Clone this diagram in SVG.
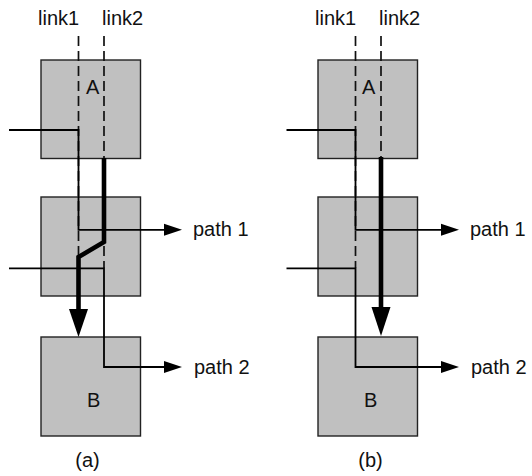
<svg xmlns="http://www.w3.org/2000/svg" width="532" height="476" viewBox="0 0 532 476">
<defs>
<style>
.box{fill:#c0c0c0;stroke:#222;stroke-width:1.4}
.lbl{font-family:"Liberation Sans",Arial,Helvetica,sans-serif;font-size:20px;fill:#111}
.dash{fill:none;stroke:#111;stroke-width:1.7;stroke-dasharray:10 5}
.thin{fill:none;stroke:#000;stroke-width:1.8;stroke-linejoin:miter}
.thick{fill:none;stroke:#000;stroke-width:4.6;stroke-linejoin:miter}
.head{fill:#000;stroke:none}
</style>
</defs>
<rect width="532" height="476" fill="#fff"/>

<!-- Panel (a) -->
<g id="a-A"><rect class="box" x="41" y="60" width="99.5" height="98.5"/><text class="lbl" x="86" y="94">A</text></g>
<g id="a-mid"><rect class="box" x="41" y="197" width="99.5" height="99"/></g>
<g id="a-B"><rect class="box" x="41" y="337" width="99.5" height="99"/><text class="lbl" x="87" y="406.5">B</text></g>
<g id="a-labels">
<text class="lbl" x="38" y="25">link1</text>
<text class="lbl" x="102" y="25">link2</text>
<text class="lbl" x="193" y="236">path 1</text>
<text class="lbl" x="194" y="374">path 2</text>
<text class="lbl" x="87.5" y="467" text-anchor="middle">(a)</text>
</g>

<!-- Panel (b) -->
<g id="b-A"><rect class="box" x="318" y="60" width="99.5" height="98.5"/><text class="lbl" x="362" y="94">A</text></g>
<g id="b-mid"><rect class="box" x="318" y="197" width="99.5" height="99"/></g>
<g id="b-B"><rect class="box" x="318" y="337" width="99.5" height="99"/><text class="lbl" x="364" y="406.5">B</text></g>
<g id="b-labels">
<text class="lbl" x="315" y="25">link1</text>
<text class="lbl" x="379" y="25">link2</text>
<text class="lbl" x="470" y="236">path 1</text>
<text class="lbl" x="471" y="374">path 2</text>
<text class="lbl" x="370.5" y="467" text-anchor="middle">(b)</text>
</g>

<g id="connectors">
<!-- dashed links -->
<line class="dash" x1="78.5" y1="36" x2="78.5" y2="268"/>
<line class="dash" x1="104" y1="36" x2="104" y2="268"/>
<line class="dash" x1="355.5" y1="36" x2="355.5" y2="268"/>
<line class="dash" x1="381" y1="36" x2="381" y2="268"/>

<!-- (a) path 1 -->
<path class="thin" d="M9,130 H78.5 V229.8 H166"/>
<polygon class="head" points="164,223.8 182,229.8 164,235.8"/>
<!-- (a) path 2 -->
<path class="thin" d="M9,268.3 H104 V367 H166"/>
<polygon class="head" points="164,361 182,367 164,373"/>
<!-- (a) thick -->
<path class="thick" d="M104,158 V242 L78.5,257 V312"/>
<polygon class="head" points="69,309 88,309 78.5,337"/>

<!-- (b) path 1 -->
<path class="thin" d="M286.5,130 H355.5 V229.8 H443"/>
<polygon class="head" points="441,223.8 459,229.8 441,235.8"/>
<!-- (b) path 2 -->
<path class="thin" d="M286.5,268.3 H355.5 V367 H443"/>
<polygon class="head" points="441,361 459,367 441,373"/>
<!-- (b) thick -->
<path class="thick" d="M381,157 V310"/>
<polygon class="head" points="371.5,307 390.5,307 381,336"/>
</g>
</svg>
